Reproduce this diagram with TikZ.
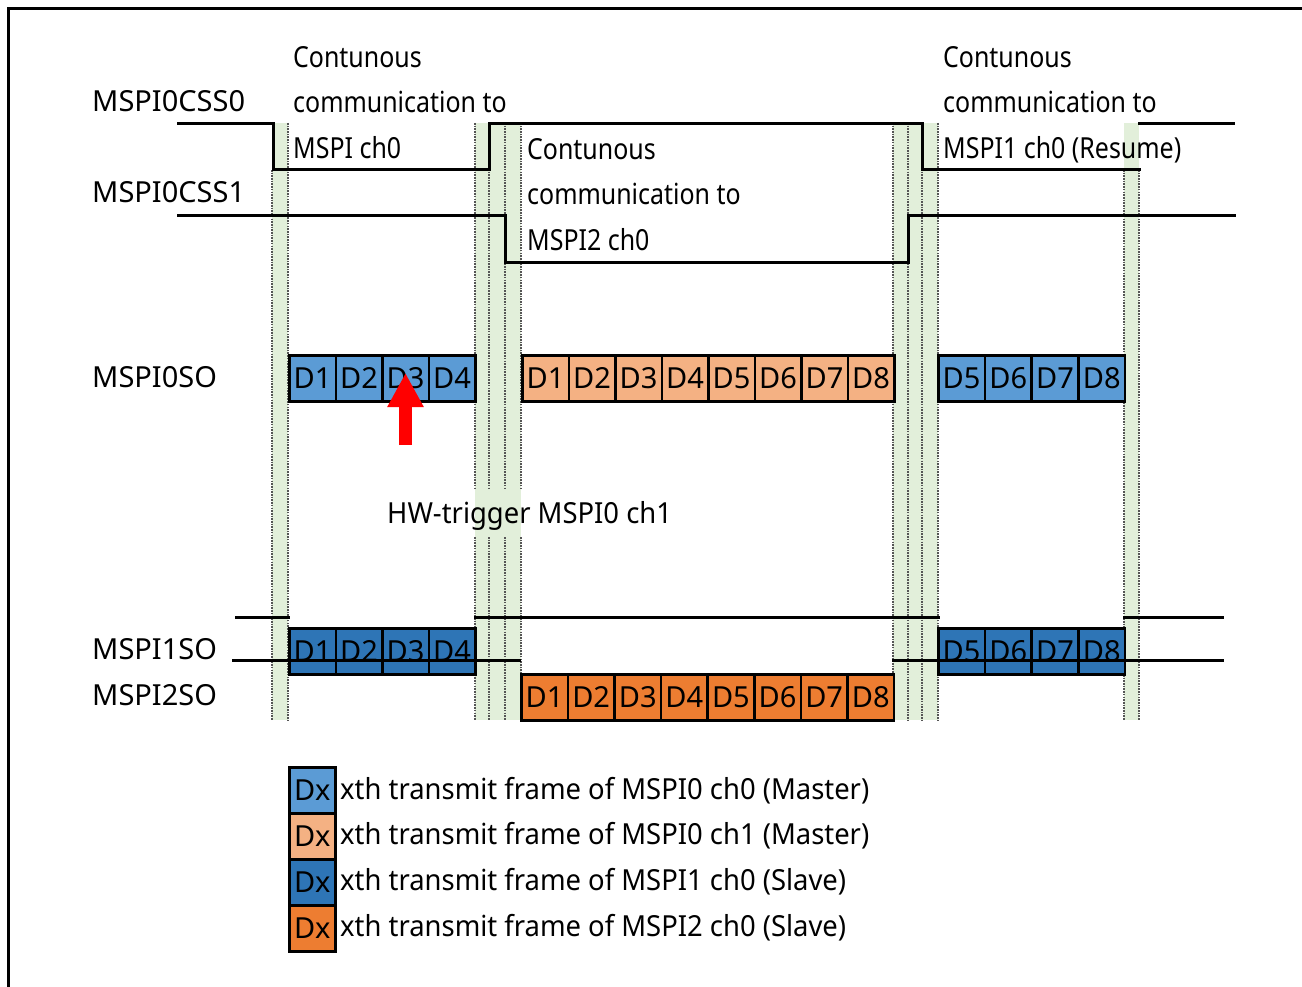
\documentclass[tikz,border=0pt]{standalone}
\usepackage{fontspec}
\setmainfont{Noto Sans}
\newfontfamily\notefont[FakeStretch=0.86]{Noto Sans}
\newfontfamily\legfont[FakeStretch=0.945]{Noto Sans}
\usetikzlibrary{arrows.meta}
\definecolor{chzeroM}{HTML}{5B9BD5}
\definecolor{choneM}{HTML}{F4B183}
\definecolor{slaveone}{HTML}{2E75B6}
\definecolor{slavetwo}{HTML}{ED7D31}
\definecolor{bandgreen}{HTML}{E2EFDA}
\definecolor{edgegray}{HTML}{555555}
\newcommand{\txtfont}{\fontsize{29}{45.5}\selectfont}
\tikzset{
  sig/.style={line width=3pt, line cap=rect},
  band/.style={fill=bandgreen, draw=none},
  bedge/.style={draw=edgegray, line width=1.5pt, dash pattern=on 1.6pt off 1.1pt},
  cell/.style={draw, line width=2.6pt, minimum width=46.5pt, minimum height=46pt,
    inner sep=0pt, anchor=north west, font=\txtfont},
  lbl/.style={anchor=base west, inner sep=0pt, font=\txtfont, align=left},
  note/.style={lbl, font=\txtfont\notefont},
  legtext/.style={lbl, font=\txtfont\legfont},
}
\begin{document}
\begin{tikzpicture}[x=1pt,y=-1pt]
\useasboundingbox (0,0) rectangle (1302,987);
% outer frame (top and left edges)
\draw[line width=3pt] (8,987) -- (8,9) -- (1302,9);

% switching windows
\fill[band] (272,123) rectangle (288,720);
\fill[band] (475,123) rectangle (521,720);
\fill[band] (893,123) rectangle (938,720);
\fill[band] (1124,123) rectangle (1139,720);

% window edges
\draw[bedge] (272,170) -- (272,720);
\draw[bedge] (288,123) -- (288,720);
\foreach \x in {475,489,505,521}{
  \draw[bedge] (\x,123) -- (\x,490);
  \draw[bedge] (\x,537) -- (\x,720);
}
\foreach \x in {893,908,922,938}
  \draw[bedge] (\x,123) -- (\x,720);
\draw[bedge] (1124,170) -- (1124,720);
\draw[bedge] (1139,170) -- (1139,720);

% MSPI0SO frames
\foreach \i in {1,...,4}
  \node[cell, fill=chzeroM] (soa\i) at ({288+(\i-1)*46.5},354) {D\i};
\foreach \i in {1,...,8}
  \node[cell, fill=choneM] (sob\i) at ({521+(\i-1)*46.5},354) {D\i};
\foreach \i [evaluate=\i as \k using int(\i+4)] in {1,...,4}
  \node[cell, fill=chzeroM] (soc\i) at ({937+(\i-1)*46.75},354) {D\k};

% MSPI1SO frames
\foreach \i in {1,...,4}
  \node[cell, fill=slaveone] (sa\i) at ({288+(\i-1)*46.5},627) {D\i};
\foreach \i [evaluate=\i as \k using int(\i+4)] in {1,...,4}
  \node[cell, fill=slaveone] (sc\i) at ({937+(\i-1)*46.75},627) {D\k};
% MSPI2SO frames
\foreach \i in {1,...,8}
  \node[cell, fill=slavetwo] (sb\i) at ({520+(\i-1)*46.6},673) {D\i};

% chip selects
\draw[sig] (178,124) -- (273,124) -- (273,170) -- (489,170) -- (489,124)
  -- (922,124) -- (922,170) -- (1139,170);
\draw[sig] (1139,124) -- (1233,124);
\draw[sig] (178,216) -- (505,216) -- (505,263) -- (908,263) -- (908,216) -- (1234,216);

% slave output lines
\draw[sig] (236,617) -- (288,617);
\draw[sig] (475,617) -- (938,617);
\draw[sig] (1124,617) -- (1222,617);
\draw[sig] (233,660) -- (519,660);
\draw[sig] (893,660) -- (1222,660);

% hardware trigger arrow
\coordinate (trigtail) at (405.5,445);
\coordinate (trigtip) at (405.5,373);
\draw[red, line width=13pt, -{Triangle[width=34pt,length=34pt]}] (trigtail) -- (trigtip);

% signal names
\node[lbl] (ncss0) at (92,111.5) {MSPI0CSS0};
\node[lbl] (ncss1) at (92,202.5) {MSPI0CSS1};
\node[lbl] (nso0) at (92,387.5) {MSPI0SO};
\node[lbl] (nso1) at (92,659.5) {MSPI1SO};
\node[lbl] (nso2) at (92,705.5) {MSPI2SO};

% annotations (anchored on the baseline of the last line)
\node[note] (note1) at (293,158.5) {Contunous\\communication to\\MSPI ch0};
\node[note] (note2) at (527,250.5) {Contunous\\communication to\\MSPI2 ch0};
\node[note] (note3) at (943,158.5) {Contunous\\communication to\\MSPI1 ch0 (Resume)};
\node[legtext] (hwtrig) at (387,523.5) {HW-trigger MSPI0 ch1};

% legend
\node[cell, minimum width=46pt, fill=chzeroM] (lg1) at (288,766) {Dx};
\node[cell, minimum width=46pt, fill=choneM] (lg2) at (288,812) {Dx};
\node[cell, minimum width=46pt, fill=slaveone] (lg3) at (288,858) {Dx};
\node[cell, minimum width=46pt, fill=slavetwo] (lg4) at (288,904) {Dx};
\node[legtext] (lt1) at (340,799.5) {xth transmit frame of MSPI0 ch0 (Master)};
\node[legtext] (lt2) at (340,844.5) {xth transmit frame of MSPI0 ch1 (Master)};
\node[legtext] (lt3) at (340,890.5) {xth transmit frame of MSPI1 ch0 (Slave)};
\node[legtext] (lt4) at (340,936.5) {xth transmit frame of MSPI2 ch0 (Slave)};
\end{tikzpicture}
\end{document}
